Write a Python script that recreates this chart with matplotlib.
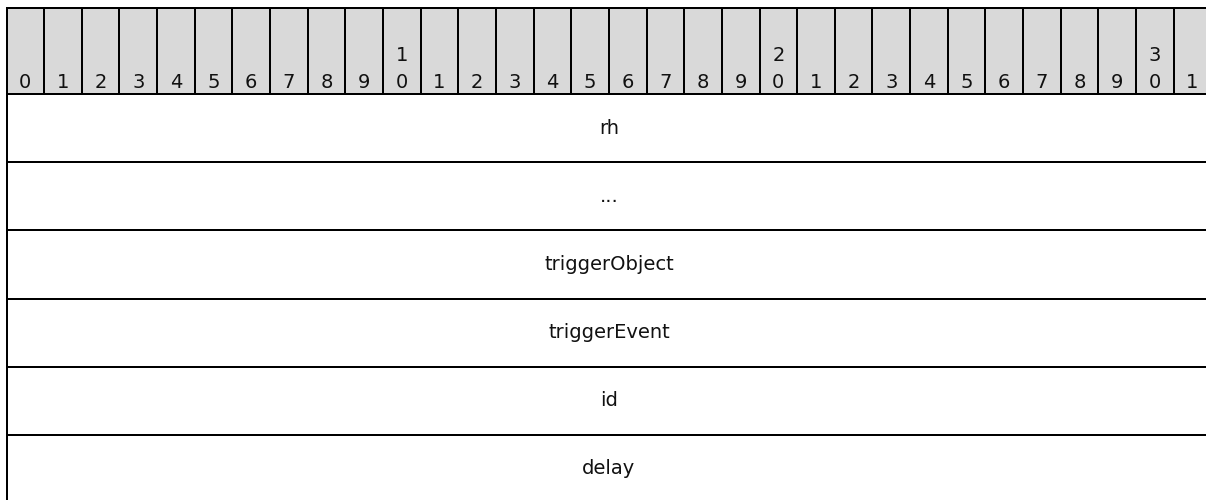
import matplotlib
matplotlib.use("Agg")
import matplotlib.pyplot as plt
from matplotlib.patches import Rectangle

# Data
n_bits = 32
bit_labels = [str(i) if i % 10 == 0 and i > 0 else str(i % 10) for i in range(n_bits)]
fields = ["rh", "...", "triggerObject", "triggerEvent", "id", "delay"]
field_bits = [32, 32, 32, 32, 32, 32]

# Layout (pixels)
W, H = 1206, 500
x0 = 6.5
colw = 37.65
head_top = 8
head_bot = 94.3
rowh = 68.1
lw = 2.0 * 72 / 100
fs = 14

fig = plt.figure(figsize=(W / 100, H / 100), dpi=100)
ax = fig.add_axes([0, 0, 1, 1])
ax.set_xlim(0, W)
ax.set_ylim(H, 0)
ax.axis("off")

right = x0 + colw * n_bits
ax.add_patch(Rectangle((x0, head_top), right - x0, head_bot - head_top,
                       facecolor="#d9d9d9", edgecolor="none", zorder=1))
for i, lab in enumerate(bit_labels):
    cx = x0 + colw * (i + 0.5)
    if len(lab) == 2:
        ax.text(cx, 61, lab[0], ha="center", va="baseline", fontsize=fs, color="#111111", zorder=3)
        ax.text(cx, 88, lab[1], ha="center", va="baseline", fontsize=fs, color="#111111", zorder=3)
    else:
        ax.text(cx, 88, lab, ha="center", va="baseline", fontsize=fs, color="#111111", zorder=3)
    ax.plot([x0 + colw * i, x0 + colw * i], [head_top, head_bot], color="black", lw=lw, zorder=4)
ax.plot([right, right], [head_top, head_bot], color="black", lw=lw, zorder=4)
ax.plot([x0, right], [head_top, head_top], color="black", lw=lw, zorder=4)
ax.plot([x0, right], [head_bot, head_bot], color="black", lw=lw, zorder=4)

y = head_bot
for name, nb in zip(fields, field_bits):
    y1 = y + rowh
    ax.plot([x0, x0], [y, y1], color="black", lw=lw, zorder=4)
    ax.plot([x0 + colw * nb, x0 + colw * nb], [y, y1], color="black", lw=lw, zorder=4)
    ax.plot([x0, x0 + colw * nb], [y1, y1], color="black", lw=lw, zorder=4)
    ax.text(x0 + colw * nb / 2, (y + y1) / 2, name, ha="center", va="center",
            fontsize=fs, color="#111111", zorder=3)
    y = y1

fig.savefig("out.png", dpi=100)
